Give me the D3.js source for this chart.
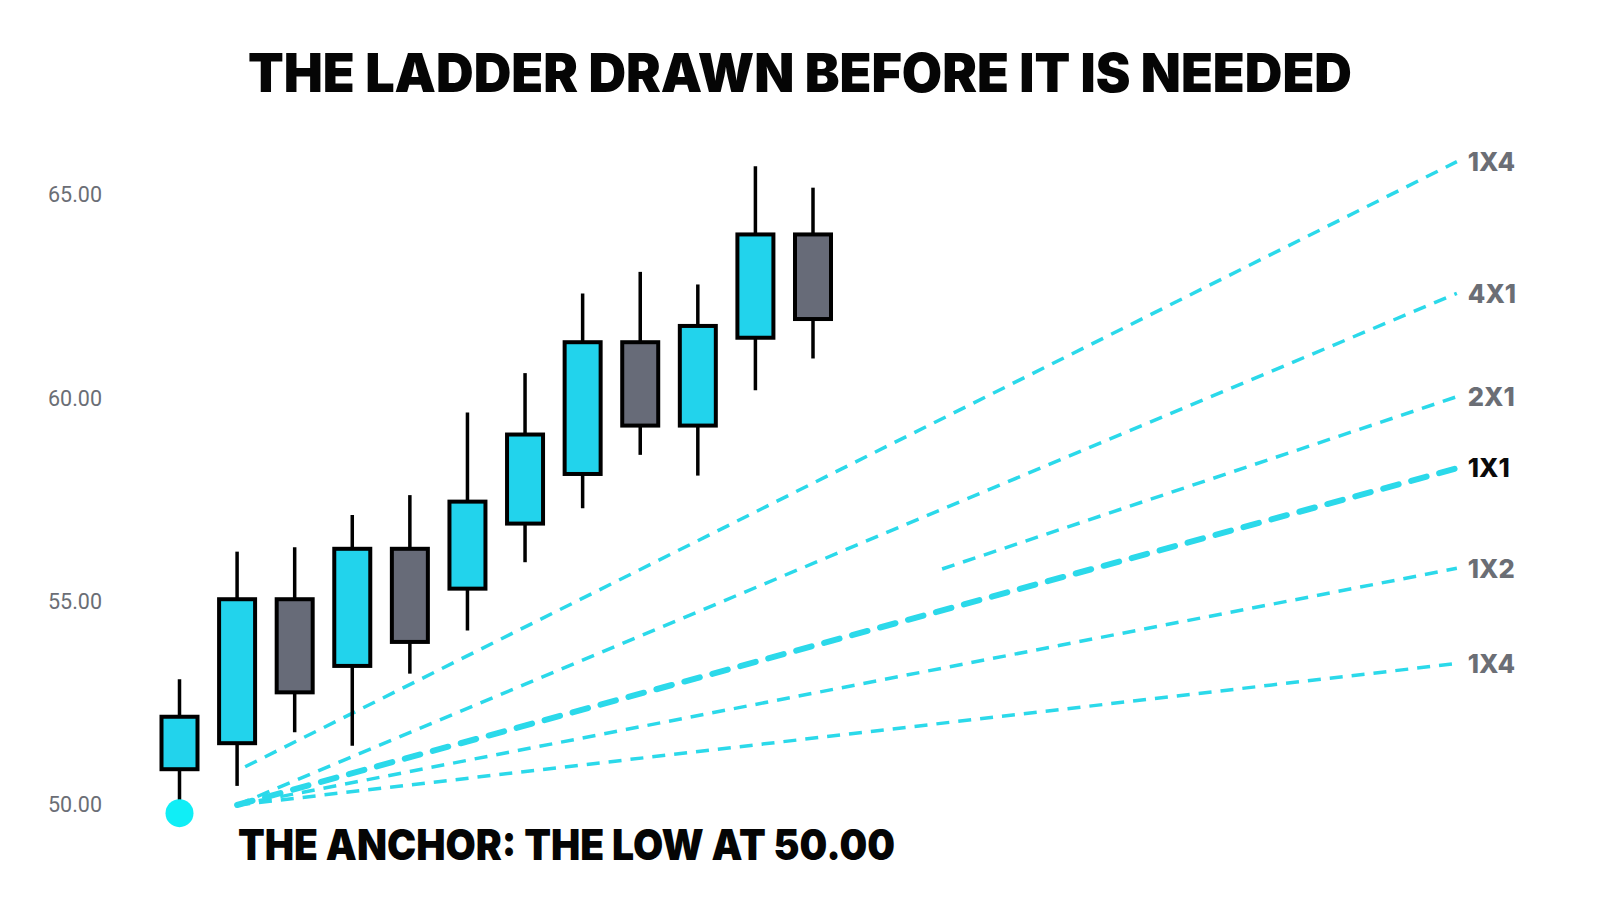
<!DOCTYPE html>
<html><head><meta charset="utf-8">
<script src="https://cdn.jsdelivr.net/npm/d3@7"></script>
<style>html,body{margin:0;padding:0;background:#fff;} svg{display:block;}</style>
</head><body><svg id="chart" width="1600" height="914"></svg>
<script>
// ---- data ----
const candleOpen  = [50.88, 51.52, 55.06, 53.42, 56.30, 55.32, 56.92, 58.14, 61.38, 59.33, 61.49, 64.03];
const candleClose = [52.17, 55.06, 52.77, 56.30, 54.01, 57.46, 59.11, 61.38, 59.33, 61.78, 64.03, 61.95];
const candleHigh  = [53.09, 56.23, 56.34, 57.13, 57.62, 59.65, 60.62, 62.58, 63.11, 62.80, 65.71, 65.18];
const candleLow   = [49.80, 50.47, 51.79, 51.46, 53.23, 54.29, 55.97, 57.30, 58.61, 58.10, 60.20, 60.98];
const yTicks = [50, 55, 60, 65];
const fanLabels = ["1X4", "4X1", "2X1", "1X1", "1X2", "1X4"];
const fanStartBar = [1.14, 1, 1, 1, 1, 1];
const fanStartPrice = [50.94, 50, 50, 50, 50, 50];
const fanEndBar = 22.18;
const fanEndPrice = [65.82, 62.58, 60.04, 58.28, 55.82, 53.48];
const fanDrawnFrom = [0, 0, 0.578, 0, 0, 0];
const fanMain = "1X1";
const anchorBar = 0, anchorPrice = 49.8;
const titleText = "THE LADDER DRAWN BEFORE IT IS NEEDED";
const anchorText = "THE ANCHOR: THE LOW AT 50.00";

// ---- layout ----
const svg = d3.select("#chart");
const x = d3.scaleLinear().domain([0, 11]).range([179.5, 813]);
const y = d3.scaleLinear().domain([50, 65]).range([805, 195]);
const bodyW = 36;
const CYAN = "#22d3ec", GRAY = "#676b78", LINE = "#2bd9ea";

// title
svg.append("text").attr("x", 800).attr("y", 92)
  .attr("text-anchor", "middle")
  .attr("font-family", "Inter, 'Open Sans', sans-serif")
  .attr("font-weight", 900).attr("font-size", 53)
  .attr("textLength", 1104).attr("lengthAdjust", "spacingAndGlyphs")
  .attr("fill", "#050505").text(titleText);

// y axis (labels only)
const yAxis = svg.append("g").attr("transform", "translate(102,0)")
  .call(d3.axisLeft(y).tickValues(yTicks).tickFormat(d3.format(".2f")).tickSize(0).tickPadding(0));
yAxis.select(".domain").remove();
yAxis.selectAll("text").attr("font-family", "Roboto, sans-serif").attr("font-size", 21.5).attr("fill", "#6b6e75");

const idx = d3.range(candleOpen.length);

// fan lines
const fan = fanLabels.map((l, i) => {
  const x0 = x(fanStartBar[i]), y0 = y(fanStartPrice[i]);
  const x1 = x(fanEndBar), y1 = y(fanEndPrice[i]);
  const f = fanDrawnFrom[i];
  return {label: l, main: l === fanMain, x0: x0 + (x1 - x0) * f, y0: y0 + (y1 - y0) * f, x1, y1};
});
svg.append("g").selectAll("line").data(fan).join("line")
  .attr("x1", d => d.x0).attr("y1", d => d.y0)
  .attr("x2", d => d.x1).attr("y2", d => d.y1)
  .attr("stroke", LINE)
  .attr("stroke-width", d => d.main ? 6 : 3.5)
  .attr("stroke-dasharray", d => d.main ? "16 13" : "13 9")
  .attr("stroke-linecap", d => d.main ? "round" : "butt");

svg.append("g").selectAll("text").data(fan).join("text")
  .attr("x", d => d.x1 + 11).attr("y", d => d.y1).attr("dy", "0.36em")
  .attr("font-family", "Inter, 'Open Sans', sans-serif")
  .attr("font-weight", 800).attr("font-size", 25.5)
  .attr("fill", d => d.main ? "#0a0a0a" : "#6b6e75")
  .text(d => d.label);

// candles
const g = svg.append("g");
g.selectAll("line.wick").data(idx).join("line").attr("class", "wick")
  .attr("x1", i => x(i)).attr("x2", i => x(i))
  .attr("y1", i => y(candleHigh[i])).attr("y2", i => y(candleLow[i]))
  .attr("stroke", "#000").attr("stroke-width", 3.5);
g.selectAll("rect").data(idx).join("rect")
  .attr("x", i => x(i) - bodyW / 2).attr("width", bodyW)
  .attr("y", i => y(Math.max(candleOpen[i], candleClose[i])))
  .attr("height", i => Math.abs(y(candleOpen[i]) - y(candleClose[i])))
  .attr("fill", i => candleClose[i] >= candleOpen[i] ? CYAN : GRAY)
  .attr("stroke", "#000").attr("stroke-width", 4);

// anchor
svg.append("circle").attr("cx", x(anchorBar)).attr("cy", y(anchorPrice)).attr("r", 14).attr("fill", "#10eef6");
svg.append("text").attr("x", 238).attr("y", 860)
  .attr("font-family", "Inter, 'Open Sans', sans-serif")
  .attr("font-weight", 900).attr("font-size", 43)
  .attr("textLength", 657).attr("lengthAdjust", "spacingAndGlyphs")
  .attr("fill", "#050505").text(anchorText);
</script></body></html>
